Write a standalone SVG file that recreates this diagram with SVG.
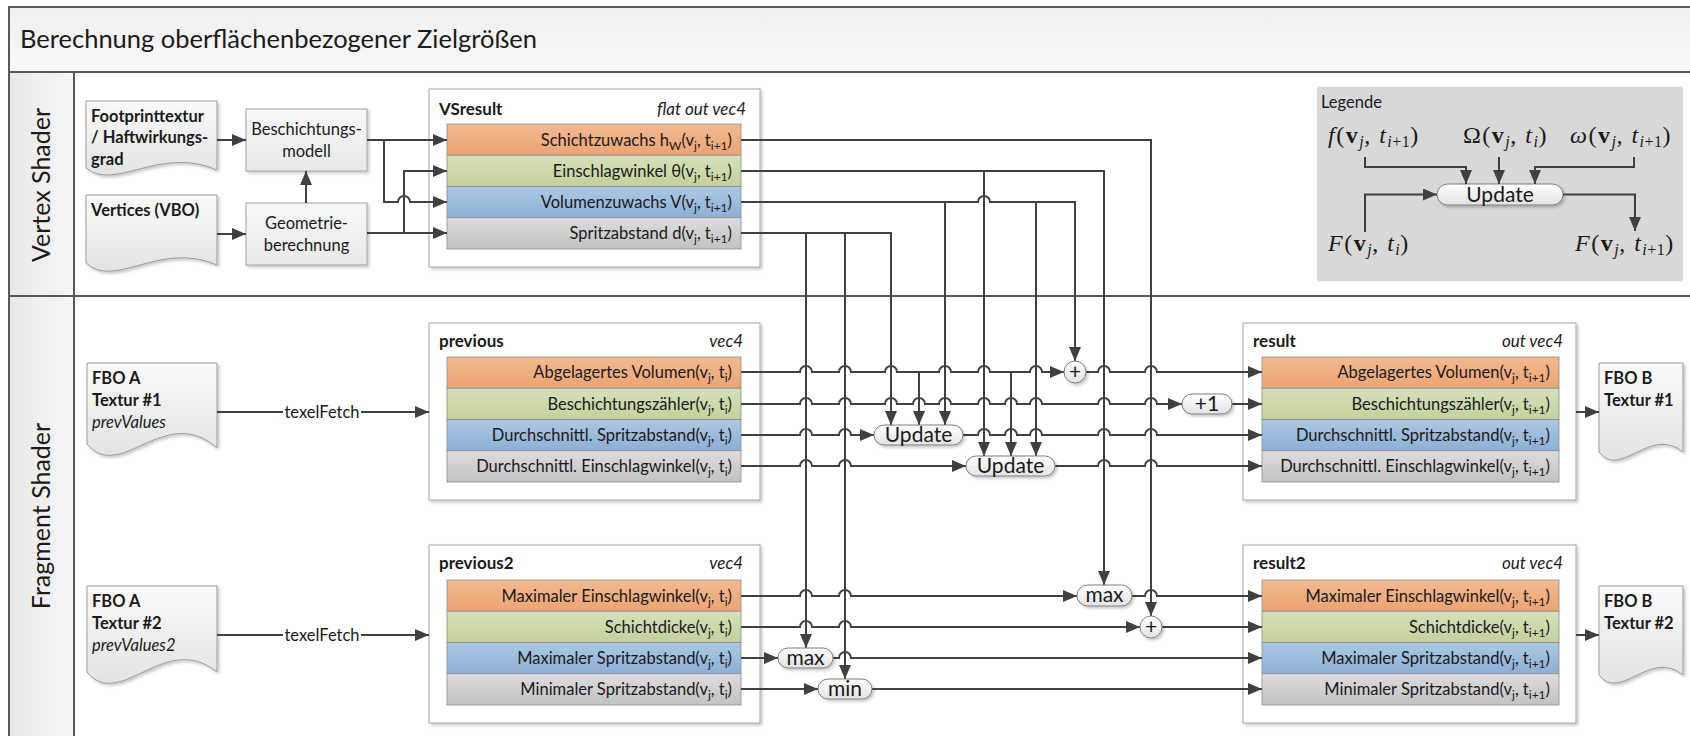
<svg xmlns="http://www.w3.org/2000/svg" width="1690" height="736" viewBox="0 0 1690 736">
  <defs>
    <style>
      .t { font-family: Lato, "Open Sans", sans-serif; font-size: 16.5px; fill: #1a1a1a; }
      .b { font-weight: bold; }
      .i { font-style: italic; }
      .hd { font-size: 17px; }
      .end { text-anchor: end; }
      .mid { text-anchor: middle; }
      .sub { font-size: 12px; }
      .title { font-size: 25.5px; }
      .lane { font-size: 25px; text-anchor: middle; }
      .op { font-size: 21px; text-anchor: middle; }
      .math { font-family: "Liberation Serif", "DejaVu Serif", serif; font-size: 24px; letter-spacing: 1.5px; fill: #1a1a1a; }
      .msub { font-size: 16px; letter-spacing: 0.5px; }
      .frame { fill: none; stroke: #595959; stroke-width: 2; }
      .wire { fill: none; stroke: #404040; stroke-width: 2; }
      .arr { marker-end: url(#ah); }
      .cont { fill: #ffffff; stroke: #a6a6a6; stroke-width: 1; filter: url(#sh); }
      .row { stroke: #8c8c8c; stroke-width: 0.8; }
      .doc { fill: url(#gDoc); stroke: #9a9a9a; stroke-width: 1; filter: url(#sh); }
      .box { fill: url(#gBox); stroke: #a0a0a0; stroke-width: 1; filter: url(#sh); }
      .pill { fill: url(#gPill); stroke: #7f7f7f; stroke-width: 1; filter: url(#sh); }
    </style>
    <linearGradient id="gOr" x1="0" y1="0" x2="0" y2="1"><stop offset="0" stop-color="#f4b991"/><stop offset="1" stop-color="#eca473"/></linearGradient>
    <linearGradient id="gGr" x1="0" y1="0" x2="0" y2="1"><stop offset="0" stop-color="#d7e0bb"/><stop offset="1" stop-color="#c3d19c"/></linearGradient>
    <linearGradient id="gBl" x1="0" y1="0" x2="0" y2="1"><stop offset="0" stop-color="#adc8e3"/><stop offset="1" stop-color="#8cafd5"/></linearGradient>
    <linearGradient id="gGy" x1="0" y1="0" x2="0" y2="1"><stop offset="0" stop-color="#dddddd"/><stop offset="1" stop-color="#c2c2c2"/></linearGradient>
    <linearGradient id="gDoc" x1="0" y1="0" x2="0" y2="1"><stop offset="0" stop-color="#fafafa"/><stop offset="1" stop-color="#e3e3e3"/></linearGradient>
    <linearGradient id="gBox" x1="0" y1="0" x2="0" y2="1"><stop offset="0" stop-color="#f8f8f8"/><stop offset="1" stop-color="#e9e9e9"/></linearGradient>
    <linearGradient id="gPill" x1="0" y1="0" x2="0" y2="1"><stop offset="0" stop-color="#ffffff"/><stop offset="1" stop-color="#e2e2e2"/></linearGradient>
    <linearGradient id="gTitle" x1="0" y1="0" x2="0" y2="1"><stop offset="0" stop-color="#efefef"/><stop offset="1" stop-color="#f9f9f9"/></linearGradient>
    <linearGradient id="gLane" x1="0" y1="0" x2="1" y2="0"><stop offset="0" stop-color="#e8e8e8"/><stop offset="1" stop-color="#f6f6f6"/></linearGradient>
    <filter id="sh" x="-10%" y="-10%" width="125%" height="135%">
      <feDropShadow dx="2" dy="2" stdDeviation="1.5" flood-color="#000000" flood-opacity="0.22"/>
    </filter>
    <marker id="ah" viewBox="0 0 14 12" refX="14" refY="6" markerWidth="14" markerHeight="12" markerUnits="userSpaceOnUse" orient="auto">
      <path d="M0,0 L14,6 L0,12 Z" fill="#404040"/>
    </marker>
  </defs>

  <rect width="1690" height="736" fill="#ffffff"/>

  <!-- swimlane frame -->
  <g id="lanes">
    <rect x="9" y="7" width="1690" height="65" fill="url(#gTitle)"/>
    <rect x="9" y="72" width="65" height="670" fill="url(#gLane)"/>
    <path class="frame" d="M9,740 V7 H1692 M9,72 H1692 M74,72 V740 M9,296 H1692"/>
    <text class="t title" x="20" y="48">Berechnung oberflächenbezogener Zielgrößen</text>
    <text class="t lane" transform="translate(50,185) rotate(-90)">Vertex Shader</text>
    <text class="t lane" transform="translate(50,516) rotate(-90)">Fragment Shader</text>
  </g>

  <!-- legend -->
  <g id="legend">
    <rect x="1317" y="87" width="366" height="194" fill="#d8d8d8"/>
    <text class="t" x="1321" y="108" font-size="15.5">Legende</text>
    <text class="math" x="1328" y="143"><tspan font-style="italic">f</tspan>(<tspan font-weight="bold">v</tspan><tspan class="msub" font-style="italic" dy="4">j</tspan><tspan dy="-4">,</tspan><tspan font-style="italic"> t</tspan><tspan class="msub" dy="4"><tspan font-style="italic">i</tspan>+1</tspan><tspan dy="-4">)</tspan></text>
    <text class="math" x="1463" y="143">Ω(<tspan font-weight="bold">v</tspan><tspan class="msub" font-style="italic" dy="4">j</tspan><tspan dy="-4">,</tspan><tspan font-style="italic"> t</tspan><tspan class="msub" font-style="italic" dy="4">i</tspan><tspan dy="-4">)</tspan></text>
    <text class="math" x="1570" y="143"><tspan font-style="italic">ω</tspan>(<tspan font-weight="bold">v</tspan><tspan class="msub" font-style="italic" dy="4">j</tspan><tspan dy="-4">,</tspan><tspan font-style="italic"> t</tspan><tspan class="msub" dy="4"><tspan font-style="italic">i</tspan>+1</tspan><tspan dy="-4">)</tspan></text>
    <text class="math" x="1328" y="251"><tspan font-style="italic">F</tspan>(<tspan font-weight="bold">v</tspan><tspan class="msub" font-style="italic" dy="4">j</tspan><tspan dy="-4">,</tspan><tspan font-style="italic"> t</tspan><tspan class="msub" font-style="italic" dy="4">i</tspan><tspan dy="-4">)</tspan></text>
    <text class="math" x="1575" y="251"><tspan font-style="italic">F</tspan>(<tspan font-weight="bold">v</tspan><tspan class="msub" font-style="italic" dy="4">j</tspan><tspan dy="-4">,</tspan><tspan font-style="italic"> t</tspan><tspan class="msub" dy="4"><tspan font-style="italic">i</tspan>+1</tspan><tspan dy="-4">)</tspan></text>
    <rect class="pill" x="1437" y="184" width="126" height="21" rx="10.5"/>
    <text class="t op" x="1500" y="202">Update</text>
    <path class="wire arr" d="M1365,157 V167 H1466 V184"/>
    <path class="wire arr" d="M1499,157 V184"/>
    <path class="wire arr" d="M1634,157 V167 H1535 V184"/>
    <path class="wire arr" d="M1365,232 V194.5 H1437"/>
    <path class="wire arr" d="M1563,194.5 H1635 V231"/>
  </g>

  <!-- vertex shader inputs -->
  <g id="footprint">
    <path class="doc" d="M86,101 H217 V170 C160,145 115,192 86,168 Z"/>
    <text class="t b" x="91" y="122">Footprinttextur</text>
    <text class="t b" x="91" y="143">/ Haftwirkungs-</text>
    <text class="t b" x="91" y="165">grad</text>
  </g>
  <g id="vertices">
    <path class="doc" d="M86,195 H217 V265 C160,240 115,290 86,263 Z"/>
    <text class="t b" x="91" y="216">Vertices (VBO)</text>
  </g>
  <g id="beschichtungsmodell">
    <rect class="box" x="246" y="109" width="121" height="62"/>
    <text class="t mid" x="306.5" y="135">Beschichtungs-</text>
    <text class="t mid" x="306.5" y="157">modell</text>
  </g>
  <g id="geometrie">
    <rect class="box" x="246" y="203" width="121" height="62"/>
    <text class="t mid" x="306.5" y="229">Geometrie-</text>
    <text class="t mid" x="306.5" y="251">berechnung</text>
  </g>

  <!-- VSresult -->
  <g id="vsresult">
    <rect class="cont" x="429" y="89" width="331" height="178"/>
    <text class="t b hd" x="439" y="115">VSresult</text>
    <text class="t i hd end" x="746" y="115">flat out vec4</text>
    <rect class="row" x="447" y="124" width="294" height="31.25" fill="url(#gOr)"/>
    <rect class="row" x="447" y="155.25" width="294" height="31.25" fill="url(#gGr)"/>
    <rect class="row" x="447" y="186.5" width="294" height="31.25" fill="url(#gBl)"/>
    <rect class="row" x="447" y="217.75" width="294" height="31.25" fill="url(#gGy)"/>
    <text class="t end" x="732" y="146">Schichtzuwachs h<tspan class="sub" dy="4">W</tspan><tspan dy="-4">(v</tspan><tspan class="sub" dy="4">j</tspan><tspan dy="-4">, t</tspan><tspan class="sub" dy="4">i+1</tspan><tspan dy="-4">)</tspan></text>
    <text class="t end" x="732" y="177">Einschlagwinkel θ(v<tspan class="sub" dy="4">j</tspan><tspan dy="-4">, t</tspan><tspan class="sub" dy="4">i+1</tspan><tspan dy="-4">)</tspan></text>
    <text class="t end" x="732" y="208">Volumenzuwachs V(v<tspan class="sub" dy="4">j</tspan><tspan dy="-4">, t</tspan><tspan class="sub" dy="4">i+1</tspan><tspan dy="-4">)</tspan></text>
    <text class="t end" x="732" y="239">Spritzabstand d(v<tspan class="sub" dy="4">j</tspan><tspan dy="-4">, t</tspan><tspan class="sub" dy="4">i+1</tspan><tspan dy="-4">)</tspan></text>
  </g>

  <!-- fragment shader inputs -->
  <g id="fbo-a-1">
    <path class="doc" d="M87,363 H217 V448 C165,402 120,484 87,444 Z"/>
    <text class="t b" x="92" y="384">FBO A</text>
    <text class="t b" x="92" y="406">Textur #1</text>
    <text class="t i" x="92" y="428">prevValues</text>
  </g>
  <g id="fbo-a-2">
    <path class="doc" d="M87,586 H217 V672 C165,630 120,712 87,672 Z"/>
    <text class="t b" x="92" y="607">FBO A</text>
    <text class="t b" x="92" y="629">Textur #2</text>
    <text class="t i" x="92" y="651">prevValues2</text>
  </g>

  <!-- previous -->
  <g id="previous">
    <rect class="cont" x="429" y="323" width="331" height="177"/>
    <text class="t b hd" x="439" y="347">previous</text>
    <text class="t i hd end" x="743" y="347">vec4</text>
    <rect class="row" x="447" y="357" width="294" height="31.25" fill="url(#gOr)"/>
    <rect class="row" x="447" y="388.25" width="294" height="31.25" fill="url(#gGr)"/>
    <rect class="row" x="447" y="419.5" width="294" height="31.25" fill="url(#gBl)"/>
    <rect class="row" x="447" y="450.75" width="294" height="31.25" fill="url(#gGy)"/>
    <text class="t end" x="732" y="378">Abgelagertes Volumen(v<tspan class="sub" dy="4">j</tspan><tspan dy="-4">, t</tspan><tspan class="sub" dy="4">i</tspan><tspan dy="-4">)</tspan></text>
    <text class="t end" x="732" y="410">Beschichtungszähler(v<tspan class="sub" dy="4">j</tspan><tspan dy="-4">, t</tspan><tspan class="sub" dy="4">i</tspan><tspan dy="-4">)</tspan></text>
    <text class="t end" x="732" y="441">Durchschnittl. Spritzabstand(v<tspan class="sub" dy="4">j</tspan><tspan dy="-4">, t</tspan><tspan class="sub" dy="4">i</tspan><tspan dy="-4">)</tspan></text>
    <text class="t end" x="732" y="472">Durchschnittl. Einschlagwinkel(v<tspan class="sub" dy="4">j</tspan><tspan dy="-4">, t</tspan><tspan class="sub" dy="4">i</tspan><tspan dy="-4">)</tspan></text>
  </g>

  <!-- previous2 -->
  <g id="previous2">
    <rect class="cont" x="429" y="545" width="331" height="178"/>
    <text class="t b hd" x="439" y="569">previous2</text>
    <text class="t i hd end" x="743" y="569">vec4</text>
    <rect class="row" x="447" y="580" width="294" height="31.25" fill="url(#gOr)"/>
    <rect class="row" x="447" y="611.25" width="294" height="31.25" fill="url(#gGr)"/>
    <rect class="row" x="447" y="642.5" width="294" height="31.25" fill="url(#gBl)"/>
    <rect class="row" x="447" y="673.75" width="294" height="31.25" fill="url(#gGy)"/>
    <text class="t end" x="732" y="602">Maximaler Einschlagwinkel(v<tspan class="sub" dy="4">j</tspan><tspan dy="-4">, t</tspan><tspan class="sub" dy="4">i</tspan><tspan dy="-4">)</tspan></text>
    <text class="t end" x="732" y="633">Schichtdicke(v<tspan class="sub" dy="4">j</tspan><tspan dy="-4">, t</tspan><tspan class="sub" dy="4">i</tspan><tspan dy="-4">)</tspan></text>
    <text class="t end" x="732" y="664">Maximaler Spritzabstand(v<tspan class="sub" dy="4">j</tspan><tspan dy="-4">, t</tspan><tspan class="sub" dy="4">i</tspan><tspan dy="-4">)</tspan></text>
    <text class="t end" x="732" y="695">Minimaler Spritzabstand(v<tspan class="sub" dy="4">j</tspan><tspan dy="-4">, t</tspan><tspan class="sub" dy="4">i</tspan><tspan dy="-4">)</tspan></text>
  </g>

  <!-- result -->
  <g id="result">
    <rect class="cont" x="1243" y="323" width="333" height="177"/>
    <text class="t b hd" x="1253" y="347">result</text>
    <text class="t i hd end" x="1563" y="347">out vec4</text>
    <rect class="row" x="1262" y="357" width="297" height="31.25" fill="url(#gOr)"/>
    <rect class="row" x="1262" y="388.25" width="297" height="31.25" fill="url(#gGr)"/>
    <rect class="row" x="1262" y="419.5" width="297" height="31.25" fill="url(#gBl)"/>
    <rect class="row" x="1262" y="450.75" width="297" height="31.25" fill="url(#gGy)"/>
    <text class="t end" x="1550" y="378">Abgelagertes Volumen(v<tspan class="sub" dy="4">j</tspan><tspan dy="-4">, t</tspan><tspan class="sub" dy="4">i+1</tspan><tspan dy="-4">)</tspan></text>
    <text class="t end" x="1550" y="410">Beschichtungszähler(v<tspan class="sub" dy="4">j</tspan><tspan dy="-4">, t</tspan><tspan class="sub" dy="4">i+1</tspan><tspan dy="-4">)</tspan></text>
    <text class="t end" x="1550" y="441">Durchschnittl. Spritzabstand(v<tspan class="sub" dy="4">j</tspan><tspan dy="-4">, t</tspan><tspan class="sub" dy="4">i+1</tspan><tspan dy="-4">)</tspan></text>
    <text class="t end" x="1550" y="472">Durchschnittl. Einschlagwinkel(v<tspan class="sub" dy="4">j</tspan><tspan dy="-4">, t</tspan><tspan class="sub" dy="4">i+1</tspan><tspan dy="-4">)</tspan></text>
  </g>

  <!-- result2 -->
  <g id="result2">
    <rect class="cont" x="1243" y="545" width="333" height="178"/>
    <text class="t b hd" x="1253" y="569">result2</text>
    <text class="t i hd end" x="1563" y="569">out vec4</text>
    <rect class="row" x="1262" y="580" width="297" height="31.25" fill="url(#gOr)"/>
    <rect class="row" x="1262" y="611.25" width="297" height="31.25" fill="url(#gGr)"/>
    <rect class="row" x="1262" y="642.5" width="297" height="31.25" fill="url(#gBl)"/>
    <rect class="row" x="1262" y="673.75" width="297" height="31.25" fill="url(#gGy)"/>
    <text class="t end" x="1550" y="602">Maximaler Einschlagwinkel(v<tspan class="sub" dy="4">j</tspan><tspan dy="-4">, t</tspan><tspan class="sub" dy="4">i+1</tspan><tspan dy="-4">)</tspan></text>
    <text class="t end" x="1550" y="633">Schichtdicke(v<tspan class="sub" dy="4">j</tspan><tspan dy="-4">, t</tspan><tspan class="sub" dy="4">i+1</tspan><tspan dy="-4">)</tspan></text>
    <text class="t end" x="1550" y="664">Maximaler Spritzabstand(v<tspan class="sub" dy="4">j</tspan><tspan dy="-4">, t</tspan><tspan class="sub" dy="4">i+1</tspan><tspan dy="-4">)</tspan></text>
    <text class="t end" x="1550" y="695">Minimaler Spritzabstand(v<tspan class="sub" dy="4">j</tspan><tspan dy="-4">, t</tspan><tspan class="sub" dy="4">i+1</tspan><tspan dy="-4">)</tspan></text>
  </g>

  <!-- outputs -->
  <g id="fbo-b-1">
    <path class="doc" d="M1599,363 H1683 V452 C1650,425 1620,480 1599,452 Z"/>
    <text class="t b" x="1604" y="384">FBO B</text>
    <text class="t b" x="1604" y="406">Textur #1</text>
  </g>
  <g id="fbo-b-2">
    <path class="doc" d="M1599,586 H1683 V675 C1650,648 1620,703 1599,675 Z"/>
    <text class="t b" x="1604" y="607">FBO B</text>
    <text class="t b" x="1604" y="629">Textur #2</text>
  </g>

  <!-- connectors -->
  <g id="connectors">
    <!-- vertex shader -->
    <path class="wire arr" d="M217,140 H246"/>
    <path class="wire arr" d="M217,234 H246"/>
    <path class="wire arr" d="M306,203 V171"/>
    <path class="wire arr" d="M367,140 H447"/>
    <path class="wire arr" d="M384,140 V202 H398 a6,6 0 0 1 12,0 H447"/>
    <path class="wire arr" d="M367,233 H447"/>
    <path class="wire arr" d="M404,233 V171 H447"/>

    <!-- VSresult outputs -->
    <path class="wire arr" d="M741,140 H1151 V616"/>
    <path class="wire arr" d="M741,171 H1104 V585"/>
    <path class="wire arr" d="M984,171 V456"/>
    <path class="wire arr" d="M741,202 H978 a6,6 0 0 1 12,0 H1075 V361"/>
    <path class="wire arr" d="M945,202 V425"/>
    <path class="wire arr" d="M1036,202 V456"/>
    <path class="wire arr" d="M741,233 H891 V425"/>
    <path class="wire arr" d="M806,233 V648"/>
    <path class="wire arr" d="M845,233 V679"/>

    <!-- texture fetches -->
    <path class="wire arr" d="M217,412 H429"/>
    <path class="wire arr" d="M217,635 H429"/>
    <rect x="283" y="402" width="78" height="20" fill="#ffffff"/>
    <text class="t mid" x="322" y="418">texelFetch</text>
    <rect x="283" y="625" width="78" height="20" fill="#ffffff"/>
    <text class="t mid" x="322" y="641">texelFetch</text>

    <!-- previous -->
    <path class="wire arr" d="M741,372 H800 a6,6 0 0 1 12,0 H839 a6,6 0 0 1 12,0 H885 a6,6 0 0 1 12,0 H939 a6,6 0 0 1 12,0 H978 a6,6 0 0 1 12,0 H1030 a6,6 0 0 1 12,0 H1064"/>
    <path class="wire arr" d="M919,372 V425"/>
    <path class="wire arr" d="M1011,372 V456"/>
    <path class="wire arr" d="M1086,372 H1098 a6,6 0 0 1 12,0 H1145 a6,6 0 0 1 12,0 H1262"/>
    <path class="wire arr" d="M741,404 H800 a6,6 0 0 1 12,0 H839 a6,6 0 0 1 12,0 H885 a6,6 0 0 1 12,0 H913 a6,6 0 0 1 12,0 H939 a6,6 0 0 1 12,0 H978 a6,6 0 0 1 12,0 H1005 a6,6 0 0 1 12,0 H1030 a6,6 0 0 1 12,0 H1098 a6,6 0 0 1 12,0 H1145 a6,6 0 0 1 12,0 H1182"/>
    <path class="wire arr" d="M1232,404 H1262"/>
    <path class="wire arr" d="M741,435 H800 a6,6 0 0 1 12,0 H839 a6,6 0 0 1 12,0 H874"/>
    <path class="wire arr" d="M963,435 H978 a6,6 0 0 1 12,0 H1005 a6,6 0 0 1 12,0 H1030 a6,6 0 0 1 12,0 H1098 a6,6 0 0 1 12,0 H1145 a6,6 0 0 1 12,0 H1262"/>
    <path class="wire arr" d="M741,466 H800 a6,6 0 0 1 12,0 H839 a6,6 0 0 1 12,0 H966"/>
    <path class="wire arr" d="M1055,466 H1098 a6,6 0 0 1 12,0 H1145 a6,6 0 0 1 12,0 H1262"/>

    <!-- previous2 -->
    <path class="wire arr" d="M741,596 H800 a6,6 0 0 1 12,0 H839 a6,6 0 0 1 12,0 H1077"/>
    <path class="wire arr" d="M1132,596 H1145 a6,6 0 0 1 12,0 H1262"/>
    <path class="wire arr" d="M741,627 H800 a6,6 0 0 1 12,0 H839 a6,6 0 0 1 12,0 H1140"/>
    <path class="wire arr" d="M1162,627 H1262"/>
    <path class="wire arr" d="M741,658 H778"/>
    <path class="wire arr" d="M833,658 H839 a6,6 0 0 1 12,0 H1262"/>
    <path class="wire arr" d="M741,689 H818"/>
    <path class="wire arr" d="M872,689 H1262"/>

    <!-- results to framebuffer -->
    <path class="wire arr" d="M1576,412 H1599"/>
    <path class="wire arr" d="M1576,635 H1599"/>
  </g>

  <!-- operators -->
  <g id="update-spritzabstand">
    <rect class="pill" x="874" y="425" width="89" height="20" rx="10"/>
    <text class="t op" x="918.5" y="442">Update</text>
  </g>
  <g id="update-einschlagwinkel">
    <rect class="pill" x="966" y="456" width="89" height="20" rx="10"/>
    <text class="t op" x="1010.5" y="473">Update</text>
  </g>
  <g id="add-volumen">
    <circle class="pill" cx="1075" cy="372" r="11"/>
    <text class="t op" x="1075" y="379">+</text>
  </g>
  <g id="increment">
    <rect class="pill" x="1182" y="394" width="50" height="20" rx="10"/>
    <text class="t op" x="1207" y="411">+1</text>
  </g>
  <g id="max-einschlagwinkel">
    <rect class="pill" x="1077" y="585" width="55" height="21" rx="10.5"/>
    <text class="t op" x="1104.5" y="602">max</text>
  </g>
  <g id="add-schichtdicke">
    <circle class="pill" cx="1151" cy="627" r="11"/>
    <text class="t op" x="1151" y="634">+</text>
  </g>
  <g id="max-spritzabstand">
    <rect class="pill" x="778" y="648" width="55" height="20" rx="10"/>
    <text class="t op" x="805.5" y="665">max</text>
  </g>
  <g id="min-spritzabstand">
    <rect class="pill" x="818" y="679" width="54" height="20" rx="10"/>
    <text class="t op" x="845" y="696">min</text>
  </g>
</svg>
